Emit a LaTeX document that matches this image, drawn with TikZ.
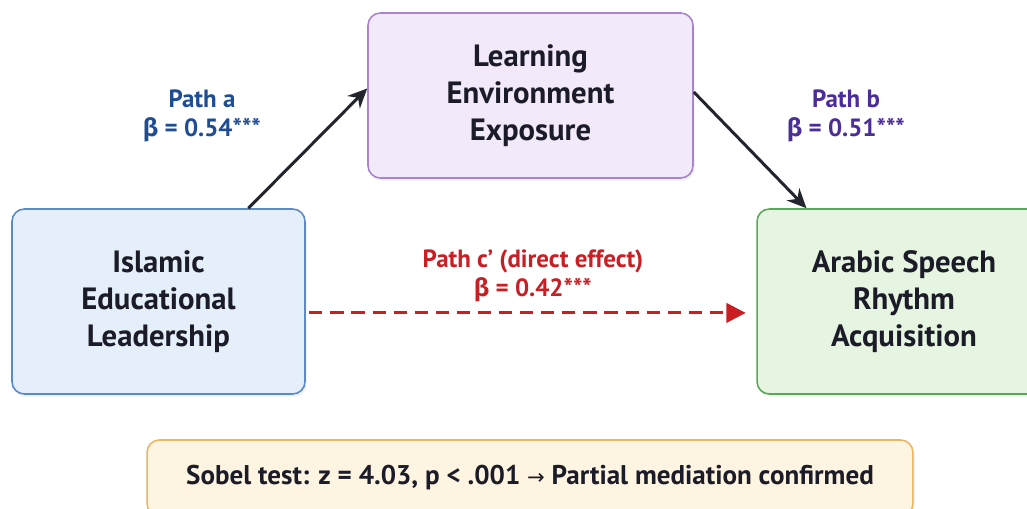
\documentclass[tikz,border=0pt]{standalone}
\usepackage{fontspec}
\setmainfont{PT Sans}
\newfontfamily\grkfont{Fira Sans}
\newfontfamily\symfont{DejaVu Sans}
\usepackage{xcolor}
\usepackage{tikz}
\usetikzlibrary{positioning,calc,arrows.meta,shadows}

\definecolor{leadfill}{HTML}{E4EFFB}
\definecolor{leadline}{HTML}{5A8AC8}
\definecolor{envfill}{HTML}{F2E9FA}
\definecolor{envline}{HTML}{A884D0}
\definecolor{rhyfill}{HTML}{E6F5E1}
\definecolor{rhyline}{HTML}{58A858}
\definecolor{sobfill}{HTML}{FEF4E2}
\definecolor{sobline}{HTML}{E9B765}
\definecolor{pathA}{HTML}{1E4D94}
\definecolor{pathB}{HTML}{4A2C9A}
\definecolor{pathC}{HTML}{C81E24}
\definecolor{arrowdark}{HTML}{23252E}
\definecolor{boxtext}{HTML}{1C1C28}

\newcommand{\bet}{{\grkfont\bfseries β}}

\begin{document}
\begin{tikzpicture}[x=0.02cm, y=-0.02cm,
    box/.style={draw, rounded corners=7pt, line width=0.9pt, align=center, text=boxtext,
        font=\bfseries\fontsize{17.5}{21}\selectfont,
        drop shadow={opacity=0.12, shadow xshift=1pt, shadow yshift=-1.5pt}},
    lbl/.style={align=center, font=\bfseries\fontsize{14.2}{16.5}\selectfont},
    arr/.style={-{Stealth[length=11pt,width=10pt]}, line width=1.7pt, draw=arrowdark}]
    \clip (0,0) rectangle (1027,508);
    \fill[white] (0,0) rectangle (1027,508);

    % variables
    \node[box, fill=leadfill, draw=leadline, minimum width=5.86cm, minimum height=3.7cm] (lead) at (158.5,301.5) {Islamic\\Educational\\Leadership};
    \node[box, fill=envfill, draw=envline, minimum width=6.5cm, minimum height=3.3cm] (env) at (530.5,95.5) {Learning\\Environment\\Exposure};
    \node[box, fill=rhyfill, draw=rhyline, minimum width=5.88cm, minimum height=3.7cm] (rhy) at (904,301.5) {Arabic Speech\\Rhythm\\Acquisition};
    \node[box, fill=sobfill, draw=sobline, minimum width=15.32cm, minimum height=1.52cm,
        font=\bfseries\fontsize{15.4}{18}\selectfont] (sob) at (530,478) {Sobel test: z = 4.03, p < .001 {\symfont\mdseries\fontsize{12}{14}\selectfont →} Partial mediation confirmed};

    % paths
    \draw[arr] ($(lead.north)!0.61!(lead.north east)$) -- ([yshift=4pt]env.west);
    \draw[arr] ([yshift=2pt]env.east) -- ($(rhy.north west)!0.17!(rhy.north east)$);
    \draw[-{Triangle[length=11pt,width=11pt]}, line width=1.7pt, draw=pathC, dash pattern=on 7.5pt off 4.5pt]
        ([yshift=-6.5pt,xshift=2pt]lead.east) -- ([yshift=-6.5pt,xshift=-6pt]rhy.west);

    \node[lbl, text=pathA] (pa) at (202,116) {Path a\\\bet{} = 0.54***};
    \node[lbl, text=pathB] (pb) at (846,116) {Path b\\\bet{} = 0.51***};
    \node[lbl, text=pathC] (pc) at (533,276) {Path c’ (direct effect)\\\bet{} = 0.42***};
\end{tikzpicture}
\end{document}
